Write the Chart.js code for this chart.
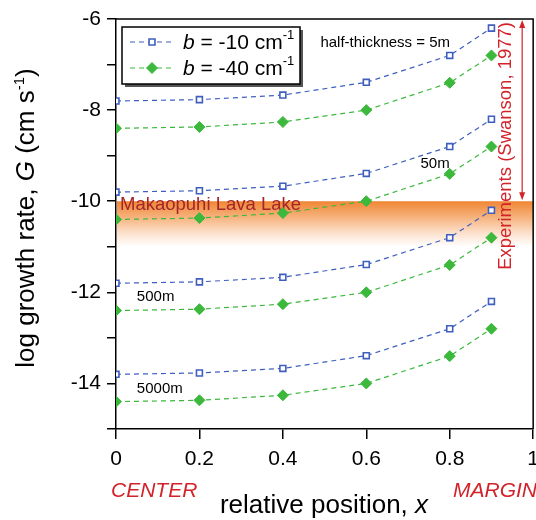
<!DOCTYPE html>
<html>
<head>
<meta charset="utf-8">
<script src="https://cdn.jsdelivr.net/npm/chart.js@4/dist/chart.umd.min.js"></script>
<style>
  html, body { margin: 0; padding: 0; background: #fff; overflow: hidden; }
  #wrap { width: 536px; height: 520px; position: relative; overflow: hidden; }
</style>
</head>
<body>
<div id="wrap"><canvas id="c" width="547" height="520"></canvas></div>
<script>
// relative position across the lava body (0 = center, 1 = margin)
const positions = [0, 0.2, 0.4, 0.6, 0.8, 0.9];

// log growth rate G for each half-thickness, b = -10 cm^-1
const g5m_b10    = [-7.8, -7.77, -7.67, -7.39, -6.8, -6.2];
const g50m_b10   = [-9.8, -9.77, -9.67, -9.39, -8.8, -8.2];
const g500m_b10  = [-11.8, -11.77, -11.67, -11.39, -10.8, -10.2];
const g5000m_b10 = [-13.8, -13.77, -13.67, -13.39, -12.8, -12.2];

// log growth rate G for each half-thickness, b = -40 cm^-1
const g5m_b40    = [-8.4, -8.37, -8.26, -8.0, -7.4, -6.8];
const g50m_b40   = [-10.4, -10.37, -10.26, -10.0, -9.4, -8.8];
const g500m_b40  = [-12.4, -12.37, -12.26, -12.0, -11.4, -10.8];
const g5000m_b40 = [-14.4, -14.37, -14.26, -14.0, -13.4, -12.8];

const xTicks = [0, 0.2, 0.4, 0.6, 0.8, 1];
const yTickLabels = [-6, -8, -10, -12, -14];

// observed ranges
const lavaLakeTop = -10, lavaLakeBottom = -11;
const experimentsTop = -6, experimentsBottom = -10;

const BLUE = '#3f5fbf';
const GREEN = '#3cb83c';
const RED = '#d2232a';
const FONT = '"Liberation Sans", Arial, sans-serif';

function pts(ys) { return positions.map((x, i) => ({ x, y: ys[i] })); }

function blueSet(ys) {
  return {
    data: pts(ys), borderColor: BLUE, borderWidth: 1.2, borderDash: [5, 4],
    pointStyle: 'rect', pointRadius: 4.2, pointBorderWidth: 1.6,
    pointBackgroundColor: '#fff', pointBorderColor: BLUE, fill: false, tension: 0
  };
}
function greenSet(ys) {
  return {
    data: pts(ys), borderColor: GREEN, borderWidth: 1.2, borderDash: [5, 4],
    pointStyle: 'rectRot', pointRadius: 5.5, pointBorderWidth: 1,
    pointBackgroundColor: GREEN, pointBorderColor: GREEN, fill: false, tension: 0
  };
}

// draws a run of text pieces with their own fonts (italics, superscripts)
function drawParts(ctx, x, y, parts) {
  let cx = x;
  for (const p of parts) {
    ctx.font = p.font;
    ctx.fillText(p.t, cx, y + (p.dy || 0));
    cx += ctx.measureText(p.t).width;
  }
  return cx;
}
function partsWidth(ctx, parts) {
  let w = 0;
  for (const p of parts) { ctx.font = p.font; w += ctx.measureText(p.t).width; }
  return w;
}

const decorations = {
  id: 'decorations',
  beforeDatasetsDraw(chart) {
    const { ctx, chartArea: a, scales: { y } } = chart;
    const yt = y.getPixelForValue(lavaLakeTop);
    const yb = y.getPixelForValue(lavaLakeBottom);
    ctx.save();
    const g = ctx.createLinearGradient(0, yt, 0, yb);
    g.addColorStop(0, 'rgb(240,134,52)');
    g.addColorStop(0.35, 'rgb(246,178,125)');
    g.addColorStop(0.7, 'rgb(252,225,205)');
    g.addColorStop(1, 'rgba(255,255,255,1)');
    ctx.fillStyle = g;
    ctx.fillRect(a.left + 1, yt, a.right - a.left - 1, yb - yt);
    ctx.fillStyle = '#a3262a';
    ctx.font = '18.5px ' + FONT;
    ctx.textBaseline = 'alphabetic';
    ctx.fillText('Makaopuhi Lava Lake', a.left + 4, yt + 9);
    ctx.restore();
  },
  afterDatasetsDraw(chart) {
    const { ctx, chartArea: a, scales: { x, y } } = chart;
    ctx.save();
    // frame top and right
    ctx.strokeStyle = '#000'; ctx.lineWidth = 1.5;
    ctx.beginPath();
    ctx.moveTo(a.left, a.top); ctx.lineTo(a.right, a.top); ctx.lineTo(a.right, a.bottom);
    ctx.stroke();

    // experiment range arrow
    const ax = a.right - 11;
    const y1 = y.getPixelForValue(experimentsTop) + 1;
    const y2 = y.getPixelForValue(experimentsBottom) - 1;
    ctx.strokeStyle = RED; ctx.fillStyle = RED; ctx.lineWidth = 1.2;
    ctx.beginPath(); ctx.moveTo(ax, y1 + 4); ctx.lineTo(ax, y2 - 4); ctx.stroke();
    ctx.beginPath(); ctx.moveTo(ax, y1); ctx.lineTo(ax - 3, y1 + 8); ctx.lineTo(ax + 3, y1 + 8); ctx.closePath(); ctx.fill();
    ctx.beginPath(); ctx.moveTo(ax, y2); ctx.lineTo(ax - 3, y2 - 8); ctx.lineTo(ax + 3, y2 - 8); ctx.closePath(); ctx.fill();
    ctx.save();
    ctx.translate(a.right - 27, y1 + 2);
    ctx.rotate(-Math.PI / 2);
    ctx.font = '18.5px ' + FONT; ctx.textAlign = 'right'; ctx.textBaseline = 'middle';
    ctx.fillText('Experiments (Swanson, 1977)', 0, 0);
    ctx.restore();

    // half-thickness labels
    ctx.fillStyle = '#000'; ctx.font = '15px ' + FONT; ctx.textBaseline = 'middle';
    ctx.textAlign = 'left';
    ctx.fillText('half-thickness = 5m', x.getPixelForValue(0.49), y.getPixelForValue(-6.52));
    ctx.fillText('50m', x.getPixelForValue(0.73), y.getPixelForValue(-9.17));
    ctx.fillText('500m', x.getPixelForValue(0.05), y.getPixelForValue(-12.1));
    ctx.fillText('5000m', x.getPixelForValue(0.05), y.getPixelForValue(-14.12));

    // legend box
    const lx = a.left + 6, ly = 27, lw = 178, lh = 57;
    ctx.fillStyle = '#555';
    ctx.fillRect(lx + 3, ly + 3, lw, lh);
    ctx.fillStyle = '#fff';
    ctx.fillRect(lx, ly, lw, lh);
    ctx.strokeStyle = '#000'; ctx.lineWidth = 1.5;
    ctx.strokeRect(lx, ly, lw, lh);
    const rows = [
      { set: chart.data.datasets[0], text: '-10', y: ly + 15 },
      { set: chart.data.datasets[1], text: '-40', y: ly + 41 }
    ];
    for (const r of rows) {
      const ds = r.set;
      ctx.save();
      ctx.strokeStyle = ds.borderColor; ctx.lineWidth = 1.2; ctx.setLineDash([5, 4]);
      ctx.beginPath(); ctx.moveTo(lx + 8, r.y); ctx.lineTo(lx + 52, r.y); ctx.stroke();
      ctx.restore();
      ctx.save();
      ctx.fillStyle = ds.pointBackgroundColor; ctx.strokeStyle = ds.pointBorderColor; ctx.lineWidth = ds.pointBorderWidth;
      Chart.helpers.drawPoint(ctx, { pointStyle: ds.pointStyle, radius: ds.pointRadius, borderWidth: ds.pointBorderWidth, rotation: 0 }, lx + 30, r.y);
      ctx.restore();
      ctx.fillStyle = '#000'; ctx.textAlign = 'left'; ctx.textBaseline = 'middle';
      drawParts(ctx, lx + 61, r.y + 1, [
        { t: 'b', font: 'italic 21px ' + FONT },
        { t: ' = ' + r.text + ' cm', font: '21px ' + FONT },
        { t: '-1', font: '13px ' + FONT, dy: -8 }
      ]);
    }

    // axis titles
    ctx.fillStyle = '#000'; ctx.textBaseline = 'alphabetic'; ctx.textAlign = 'left';
    const xt = [
      { t: 'relative position, ', font: '26px ' + FONT },
      { t: 'x', font: 'italic 26px ' + FONT }
    ];
    drawParts(ctx, 324 - partsWidth(ctx, xt) / 2, 513, xt);

    ctx.save();
    ctx.translate(34, 218);
    ctx.rotate(-Math.PI / 2);
    const yt = [
      { t: 'log growth rate, ', font: '26px ' + FONT },
      { t: 'G', font: 'italic 26px ' + FONT },
      { t: ' (cm s', font: '26px ' + FONT },
      { t: '-1', font: '15px ' + FONT, dy: -10 },
      { t: ')', font: '26px ' + FONT }
    ];
    drawParts(ctx, -partsWidth(ctx, yt) / 2, 0, yt);
    ctx.restore();

    // CENTER / MARGIN
    ctx.fillStyle = RED; ctx.font = 'italic 21px ' + FONT;
    ctx.textAlign = 'left'; ctx.fillText('CENTER', 111, 497);
    ctx.textAlign = 'right'; ctx.fillText('MARGIN', 537, 497);
    ctx.restore();
  }
};

new Chart(document.getElementById('c'), {
  type: 'line',
  data: {
    datasets: [
      blueSet(g5m_b10), greenSet(g5m_b40),
      blueSet(g50m_b10), greenSet(g50m_b40),
      blueSet(g500m_b10), greenSet(g500m_b40),
      blueSet(g5000m_b10), greenSet(g5000m_b40)
    ]
  },
  options: {
    responsive: false,
    animation: false,
    devicePixelRatio: 1,
    layout: { padding: { top: 19, right: 0, left: 0, bottom: 0 } },
    plugins: { legend: { display: false }, tooltip: { enabled: false } },
    scales: {
      x: {
        type: 'linear', min: 0, max: 1,
        afterFit(s) { s.height = 91; },
        afterBuildTicks(s) { s.ticks = xTicks.map(v => ({ value: v })); },
        ticks: {
          color: '#000', font: { family: FONT, size: 21 }, padding: 8, maxRotation: 0,
          callback: v => (v === 0 || v === 1) ? String(v) : v.toFixed(1)
        },
        grid: { drawOnChartArea: false, drawTicks: true, tickLength: 10, color: '#000', lineWidth: 1.5 },
        border: { color: '#000', width: 1.5 }
      },
      y: {
        type: 'linear', min: -15, max: -6,
        afterFit(s) { s.width = 116; },
        ticks: {
          stepSize: 1, color: '#000', font: { family: FONT, size: 21 }, padding: 6,
          callback: v => yTickLabels.includes(v) ? String(v) : ''
        },
        grid: { drawOnChartArea: false, drawTicks: true, tickLength: 9, color: '#000', lineWidth: 1.5 },
        border: { color: '#000', width: 1.5 }
      }
    }
  },
  plugins: [decorations]
});
</script>
</body>
</html>
